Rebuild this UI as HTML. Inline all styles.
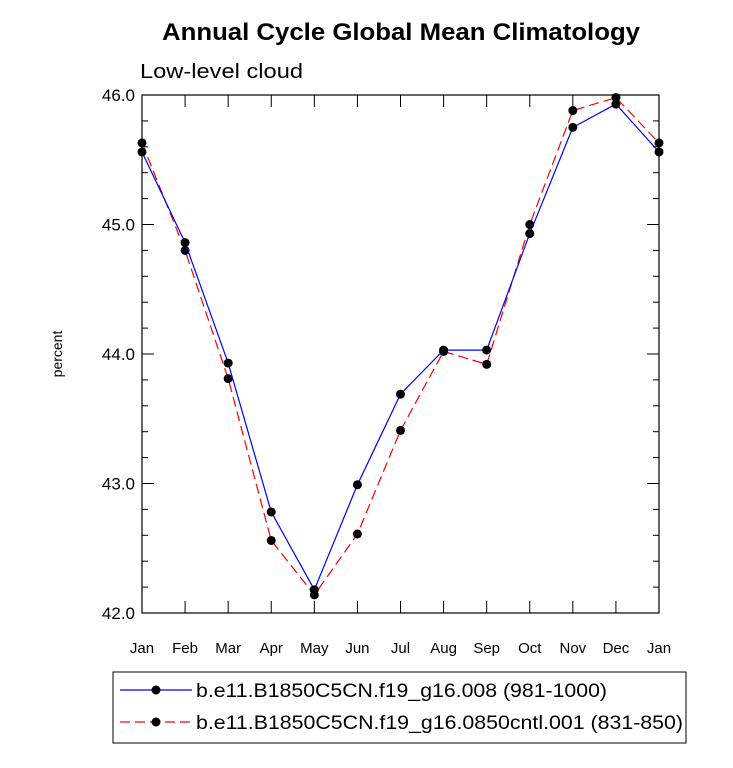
<!DOCTYPE html>
<html><head><meta charset="utf-8"><style>
body{margin:0;background:#fff;}
svg text{font-family:"Liberation Sans",sans-serif;}
</style></head><body>
<svg id="chart" width="733" height="763" xmlns="http://www.w3.org/2000/svg">
<text x="162" y="40" font-size="24" font-weight="bold" textLength="478" lengthAdjust="spacingAndGlyphs">Annual Cycle Global Mean Climatology</text>
<text x="140" y="78" font-size="20" textLength="163" lengthAdjust="spacingAndGlyphs">Low-level cloud</text>
<text transform="translate(62,354) rotate(-90)" text-anchor="middle" font-size="14">percent</text>
<g id="axes"></g>
<g id="series"></g>
<g>
<rect x="113" y="672" width="573" height="71" fill="none" stroke="#000" stroke-width="1"/>
<line x1="120" y1="690" x2="192" y2="690" stroke="#0000ff" stroke-width="1.2"/>
<circle cx="156" cy="690" r="4.5" fill="#000"/>
<text x="196" y="697" font-size="19" textLength="411" lengthAdjust="spacingAndGlyphs">b.e11.B1850C5CN.f19_g16.008 (981-1000)</text>
<line x1="120" y1="722" x2="192" y2="722" stroke="#ff0000" stroke-width="1.2" stroke-dasharray="10,5"/>
<circle cx="156" cy="722" r="4.5" fill="#000"/>
<text x="196" y="729" font-size="19" textLength="487" lengthAdjust="spacingAndGlyphs">b.e11.B1850C5CN.f19_g16.0850cntl.001 (831-850)</text>
</g>
</svg>
<script>
const months=["Jan","Feb","Mar","Apr","May","Jun","Jul","Aug","Sep","Oct","Nov","Dec","Jan"];
const blueValues=[45.56,44.86,43.93,42.78,42.18,42.99,43.69,44.03,44.03,44.93,45.75,45.93,45.56];
const redValues=[45.63,44.80,43.81,42.56,42.14,42.61,43.41,44.02,43.92,45.00,45.88,45.98,45.63];
const yTicks=[42.0,43.0,44.0,45.0,46.0];
const X0=142,X1=659,Y0=613,Y1=95,YMIN=42,YMAX=46;
const xs=i=>X0+(X1-X0)*i/(months.length-1);
const ys=v=>Y0-(v-YMIN)/(YMAX-YMIN)*(Y0-Y1);
const NS="http://www.w3.org/2000/svg";
function mk(t,a,p){const e=document.createElementNS(NS,t);for(const k in a)e.setAttribute(k,a[k]);p.appendChild(e);return e;}
const ax=document.getElementById('axes');
const frame=mk('rect',{x:X0,y:Y1,width:X1-X0,height:Y0-Y1,fill:'none',stroke:'#000','stroke-width':1.2},ax);


for(let v=YMIN;v<=YMAX+1e-9;v+=0.2){
 const y=ys(v);const major=Math.abs(v-Math.round(v))<1e-6;const L=major?12:6;
 mk('line',{x1:X0,y1:y,x2:X0+L,y2:y,stroke:'#000'},ax);
 mk('line',{x1:X1,y1:y,x2:X1-L,y2:y,stroke:'#000'},ax);
}
yTicks.forEach(v=>{const t=mk('text',{x:X0-7,y:ys(v)+6,'text-anchor':'end','font-size':17},ax);t.textContent=v.toFixed(1);
 
 });
months.forEach((m,i)=>{const x=xs(i);
 mk('line',{x1:x,y1:Y0,x2:x,y2:Y0-12,stroke:'#000'},ax);
 mk('line',{x1:x,y1:Y1,x2:x,y2:Y1+12,stroke:'#000'},ax);
 const t=mk('text',{x:x,y:Y0+40,'text-anchor':'middle','font-size':15},ax);t.textContent=m;
 
 });
const sg=document.getElementById('series');
function series(vals,color,dash,name){
 const pts=vals.map((v,i)=>xs(i)+','+ys(v)).join(' ');
 const pl=mk('polyline',{points:pts,fill:'none',stroke:color,'stroke-width':1.2},sg);
 if(dash)pl.setAttribute('stroke-dasharray',dash);
 
 
 vals.forEach((v,i)=>{const c=mk('circle',{cx:xs(i),cy:ys(v),r:4.5,fill:'#000'},sg);
  
  });
}
series(redValues,'#ff0000','10,5','red-series');
series(blueValues,'#0000ff',null,'blue-series');
</script>
</body></html>
